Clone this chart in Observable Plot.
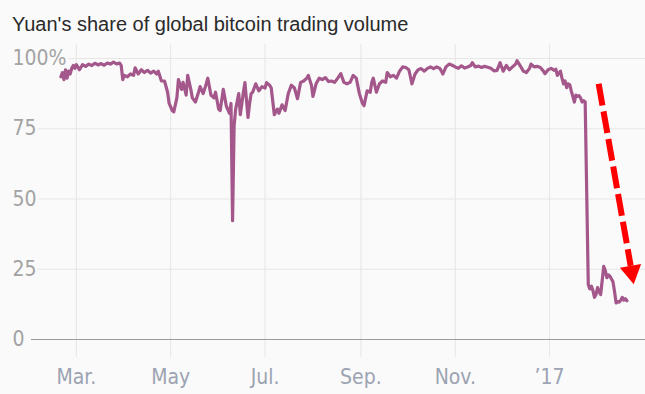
<!DOCTYPE html>
<html>
<head>
<meta charset="utf-8">
<script src="https://cdn.jsdelivr.net/npm/d3@7"></script>
<script src="https://cdn.jsdelivr.net/npm/@observablehq/plot@0.6"></script>
<style>
  html, body { margin: 0; padding: 0; background: #fafafa; }
  #wrap { position: relative; width: 645px; height: 394px; overflow: hidden; background: #fafafa; }
  #title { position: absolute; left: 12px; top: 14px; font-family: "Liberation Sans", Arial, sans-serif; font-size: 20px; line-height: 20px; color: #2a2a2a; white-space: nowrap; }
  #chart { position: absolute; left: 0; top: 40px; }
</style>
</head>
<body>
<div id="wrap">
  <div id="title">Yuan's share of global bitcoin trading volume</div>
  <div id="chart"></div>
</div>
<script>
const titleText = "Yuan's share of global bitcoin trading volume";

const dates = [
"2016-02-20","2016-02-21","2016-02-22","2016-02-23","2016-02-24","2016-02-25","2016-02-26","2016-02-27","2016-02-28","2016-02-29",
"2016-03-01","2016-03-03","2016-03-05","2016-03-07","2016-03-09","2016-03-11","2016-03-13","2016-03-15","2016-03-17","2016-03-19",
"2016-03-21","2016-03-23","2016-03-25","2016-03-27","2016-03-29","2016-03-30","2016-03-31","2016-04-01","2016-04-03","2016-04-05",
"2016-04-07","2016-04-08","2016-04-10","2016-04-12","2016-04-14","2016-04-16","2016-04-18","2016-04-20","2016-04-22","2016-04-23",
"2016-04-25","2016-04-27","2016-04-29","2016-04-30","2016-05-02","2016-05-03","2016-05-05","2016-05-06","2016-05-08","2016-05-09",
"2016-05-11","2016-05-12","2016-05-14","2016-05-15","2016-05-17","2016-05-19","2016-05-20","2016-05-22","2016-05-24","2016-05-25",
"2016-05-27","2016-05-29","2016-05-30","2016-06-01","2016-06-02","2016-06-04","2016-06-06","2016-06-08","2016-06-09","2016-06-10",
"2016-06-11","2016-06-12","2016-06-14","2016-06-15","2016-06-17","2016-06-18","2016-06-20","2016-06-21","2016-06-22","2016-06-23",
"2016-06-25","2016-06-27","2016-06-29","2016-07-01","2016-07-02","2016-07-04","2016-07-05","2016-07-07","2016-07-09","2016-07-10",
"2016-07-12","2016-07-14","2016-07-16","2016-07-18","2016-07-20","2016-07-22","2016-07-24","2016-07-26","2016-07-28","2016-07-29",
"2016-07-31","2016-08-01","2016-08-03","2016-08-05","2016-08-07","2016-08-09","2016-08-11","2016-08-13","2016-08-15","2016-08-17",
"2016-08-19","2016-08-21","2016-08-23","2016-08-25","2016-08-27","2016-08-29","2016-08-31","2016-09-02","2016-09-03","2016-09-05",
"2016-09-07","2016-09-08","2016-09-09","2016-09-11","2016-09-13","2016-09-15","2016-09-17","2016-09-18","2016-09-20","2016-09-22",
"2016-09-24","2016-09-26","2016-09-28","2016-09-30","2016-10-02","2016-10-03","2016-10-04","2016-10-06","2016-10-08","2016-10-10",
"2016-10-12","2016-10-14","2016-10-16","2016-10-18","2016-10-20","2016-10-22","2016-10-24","2016-10-26","2016-10-28","2016-10-30",
"2016-11-01","2016-11-03","2016-11-05","2016-11-07","2016-11-09","2016-11-11","2016-11-12","2016-11-14","2016-11-16","2016-11-18",
"2016-11-20","2016-11-22","2016-11-24","2016-11-26","2016-11-28","2016-11-30","2016-12-01","2016-12-02","2016-12-04","2016-12-06",
"2016-12-08","2016-12-10","2016-12-11","2016-12-13","2016-12-15","2016-12-17","2016-12-19","2016-12-20","2016-12-22","2016-12-24",
"2016-12-26","2016-12-28","2016-12-29","2016-12-31","2017-01-02","2017-01-04","2017-01-05","2017-01-06","2017-01-08","2017-01-09",
"2017-01-10","2017-01-11","2017-01-12","2017-01-13","2017-01-14","2017-01-15","2017-01-16","2017-01-17","2017-01-18","2017-01-19",
"2017-01-20","2017-01-21","2017-01-22","2017-01-23","2017-01-24","2017-01-26","2017-01-27","2017-01-28","2017-01-29","2017-01-30",
"2017-01-31","2017-02-01","2017-02-02","2017-02-03","2017-02-04","2017-02-05","2017-02-06","2017-02-07","2017-02-08","2017-02-09",
"2017-02-10","2017-02-11","2017-02-12","2017-02-13","2017-02-14","2017-02-15","2017-02-16","2017-02-17","2017-02-18","2017-02-19",
"2017-02-20"
];

const shares = [
93.5,95,92.5,96,93,95.5,94.5,96.5,97.5,96.5,
97.8,96,97.8,97.2,98,97.5,98.3,97.7,98.2,97.6,
98.4,98,98.7,98.1,98.4,97.5,92.5,94,93.5,94.5,
94,96.7,94.5,96,95,95.8,94.8,95.5,94.5,95.5,
92,92,88,84,81.5,81,86,92.5,89,91.5,
87,94,89,86,84.5,88,90,87.5,91,93,
87,86,88,82,81.5,89,83,80.5,84,42.3,
76,82,87.5,80,88,91.4,79,84,87.5,88,
91,88.5,90,89.5,91.4,90.5,89.5,80,82,80.5,
83.5,81.5,87.5,90.5,89.5,85.7,91.5,92,93,94,
90.5,86.5,91,93,92.5,93.2,91.8,92,91.5,93,
94.6,91.5,91,91.5,94,93,87.5,84,83.2,88.5,
88,91.5,93,88,91,92,91.5,95,93.5,94,
93,95.5,97,96.8,96,93.5,91,94.5,96,96.4,
95.5,96.5,97,96.4,97,96.5,94.5,97,98,97.6,
97,96.5,97.4,96.6,97,97.5,98.5,97,97.3,96.8,
97.2,96.9,96.5,95.6,95.8,98.5,97,95.5,97.5,96,
97,98,99.2,97.4,95.5,95,96.5,98,97,97.2,
96.8,95.5,94.6,96,96.5,95.8,96.2,94,95.5,93,
91,92,89.6,91,90.7,88.5,86.5,84.5,87,86.5,
86.8,86,84.5,85,84.5,19.5,18,19,17.5,15,
16,18.5,17,16,21,26,24.5,22,23,22.5,
21.5,20.5,17,13,13.5,13.3,14,15,14,14.5,
13.8
];

const yTicks = [0, 25, 50, 75, 100];
const yTickLabels = ["0", "25", "50", "75", "100%"];
const xTickDates = ["2016-03-01", "2016-05-01", "2016-07-01", "2016-09-01", "2016-11-01", "2017-01-01"];
const xTickLabels = ["Mar.", "May", "Jul.", "Sep.", "Nov.", "\u201917"];

// annotation arrow (in data coordinates)
const arrowFromDate = "2017-02-01T17:00";
const arrowFromValue = 91;
const arrowToDate = "2017-02-22T10:00";
const arrowToValue = 26.2;
const arrowHeadDate = "2017-02-23T00:00";
const arrowHeadValue = 24.0;

const xDomain = ["2016-02-01", "2017-03-04"];

const parse = s => new Date(s.length > 10 ? s + "Z" : s + "T00:00Z");
const series = dates.map((d, i) => ({date: parse(d), share: shares[i]}));
const xTicks = xTickDates.map((d, i) => ({date: parse(d), label: xTickLabels[i]}));
const yLabs = yTicks.map((v, i) => ({v, label: yTickLabels[i]}));
const arrow = [{x1: parse(arrowFromDate), y1: arrowFromValue, x2: parse(arrowToDate), y2: arrowToValue}];
const head = [{x: parse(arrowHeadDate), y: arrowHeadValue}];

const labelFont = "'Liberation Sans Narrow', 'DejaVu Sans Condensed', 'Liberation Sans', sans-serif";
const bg = "#fafafa";

const chart = Plot.plot({
  width: 645,
  height: 354,
  marginLeft: 31,
  marginRight: 0,
  marginTop: 18,
  marginBottom: 55,
  style: {background: bg, overflow: "visible"},
  x: {type: "utc", domain: xDomain.map(parse), axis: null},
  y: {domain: [0, 100], axis: null},
  marks: [
    Plot.ruleX(xTicks, {x: "date", y1: -6.4, y2: 105, stroke: "#e6e6e6", strokeWidth: 1}),
    Plot.ruleY(yTicks.filter(v => v > 0), {stroke: "#e6e6e6", strokeWidth: 1}),
    Plot.ruleY([0], {stroke: "#9a9a9a", strokeWidth: 1.2}),
    Plot.line(series, {x: "date", y: "share", stroke: "#a4578b", strokeWidth: 3.2, strokeLinejoin: "round", strokeLinecap: "round"}),
    Plot.text(yLabs, {y: "v", text: "label", frameAnchor: "left", textAnchor: "start", dx: -19,
      fill: "#a3a3a3", stroke: bg, strokeWidth: 6, paintOrder: "stroke",
      fontSize: 21, fontFamily: labelFont}),
    Plot.text(xTicks, {x: "date", text: "label", frameAnchor: "bottom", lineAnchor: "middle", dy: 38,
      fill: "#9ca3b2", fontSize: 21, fontFamily: labelFont}),
    Plot.link(arrow, {x1: "x1", y1: "y1", x2: "x2", y2: "y2", stroke: "#ff0000", strokeWidth: 6, strokeDasharray: "22,6"}),
    Plot.dot(head, {x: "x", y: "y", symbol: "triangle", r: 8, rotate: 170, fill: "#ff0000", stroke: "none"})
  ]
});
document.getElementById("chart").appendChild(chart);
</script>
</body>
</html>
